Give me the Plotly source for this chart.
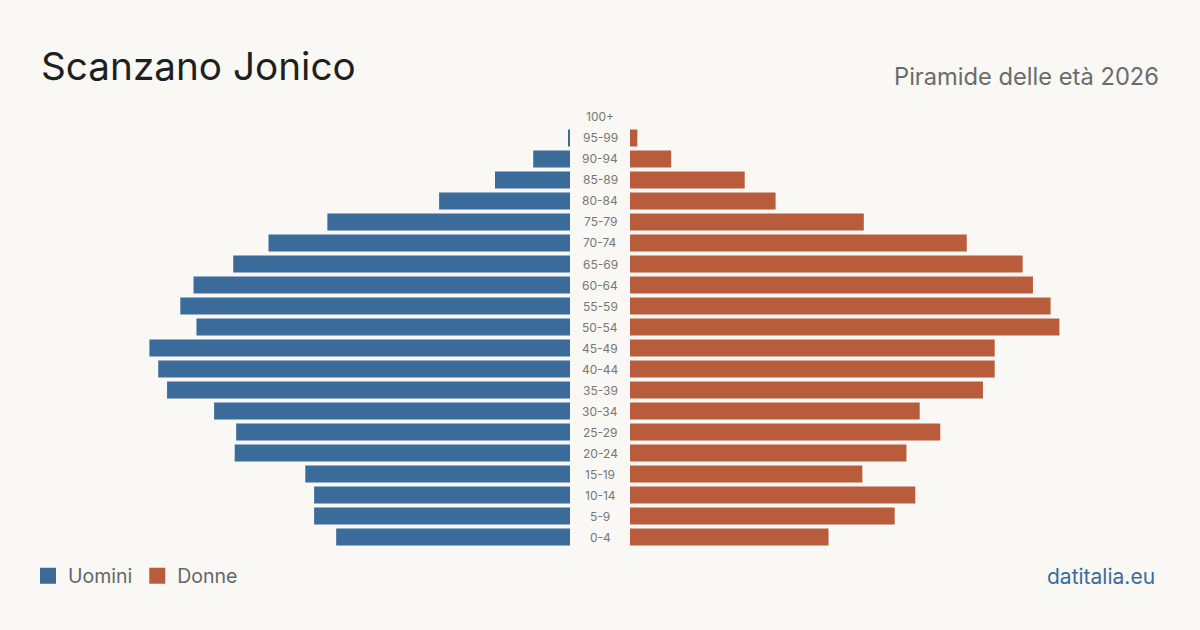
import plotly.graph_objects as go

ages = ["0-4", "5-9", "10-14", "15-19", "20-24", "25-29", "30-34", "35-39", "40-44",
        "45-49", "50-54", "55-59", "60-64", "65-69", "70-74", "75-79", "80-84", "85-89",
        "90-94", "95-99", "100+"]
uomini = [159, 174, 174, 180, 228, 227, 242, 274, 280, 286, 254, 265, 256, 229, 205,
          165, 89, 51, 25, 1, 0]
donne = [135, 180, 194, 158, 188, 211, 197, 240, 248, 248, 292, 286, 274, 267, 229,
         159, 99, 78, 28, 5, 0]

BLUE = "#3b6b9b"
ORANGE = "#b95c3c"
BG = "#f9f8f4"
FONT = "Inter"

W, H = 1200, 630
RMAX = 360.4

fig = go.Figure()
fig.add_trace(go.Bar(y=ages, x=uomini, orientation="h", marker=dict(color=BLUE, line=dict(width=0)),
                     xaxis="x", yaxis="y", showlegend=False, name="Uomini"))
fig.add_trace(go.Bar(y=ages, x=donne, orientation="h", marker=dict(color=ORANGE, line=dict(width=0)),
                     xaxis="x2", yaxis="y2", showlegend=False, name="Donne"))
# legend entries
fig.add_trace(go.Scatter(x=[None], y=[None], mode="markers", name="Uomini",
                         marker=dict(symbol="square", size=16, color=BLUE),
                         xaxis="x2", yaxis="y2"))
fig.add_trace(go.Scatter(x=[None], y=[None], mode="markers", name="Donne",
                         marker=dict(symbol="square", size=16, color=ORANGE),
                         xaxis="x2", yaxis="y2"))

ydom = [(630 - 547.5) / H, (630 - 106.5) / H]
axis_common = dict(showgrid=False, zeroline=False, showticklabels=False,
                   showline=False, ticks="", fixedrange=True)
fig.update_layout(
    width=W, height=H,
    paper_bgcolor=BG, plot_bgcolor=BG,
    margin=dict(l=0, r=0, t=0, b=0),
    bargap=0.19,
    font=dict(family=FONT, color="#666666"),
    xaxis=dict(domain=[40 / W, 570 / W], range=[RMAX, 0], **axis_common),
    xaxis2=dict(domain=[630 / W, 1160 / W], range=[0, RMAX], **axis_common),
    yaxis=dict(domain=ydom, type="category", categoryorder="array",
               categoryarray=ages, range=[-0.5, len(ages) - 0.5], **axis_common),
    yaxis2=dict(domain=ydom, type="category", categoryorder="array",
                categoryarray=ages, range=[-0.5, len(ages) - 0.5], anchor="x2",
                **axis_common),
    legend=dict(orientation="h", x=28 / W, y=(630 - 576) / H, xanchor="left",
                yanchor="middle", bgcolor="rgba(0,0,0,0)",
                font=dict(family=FONT, size=19.5, color="#666666"),
                itemwidth=30, tracegroupgap=0),
)

annotations = [
    dict(text="Scanzano Jonico", x=38.5 / W, y=(630 - 66) / H, xref="paper", yref="paper",
         xanchor="left", yanchor="middle", showarrow=False,
         font=dict(family=FONT, size=38.7, color="#1f1f1f")),
    dict(text="Piramide delle età 2026", x=1161 / W, y=(630 - 76) / H, xref="paper",
         yref="paper", xanchor="right", yanchor="middle", showarrow=False,
         font=dict(family=FONT, size=23.7, color="#6b6b6b")),
    dict(text="datitalia.eu", x=1157 / W, y=(630 - 576) / H, xref="paper", yref="paper",
         xanchor="right", yanchor="middle", showarrow=False,
         font=dict(family=FONT, size=21, color=BLUE)),
]
for a in ages:
    annotations.append(dict(text=a, x=600 / W, y=a, xref="paper", yref="y",
                            xanchor="center", yanchor="middle", showarrow=False,
                            font=dict(family=FONT, size=12, color="#777777")))
fig.update_layout(annotations=annotations)

fig.write_html("out.html", config={"displayModeBar": False})
